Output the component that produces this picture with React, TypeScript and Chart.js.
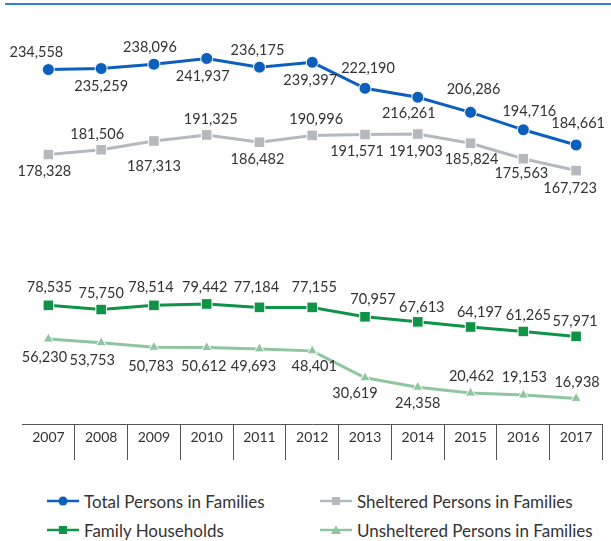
import React, { useEffect, useRef } from "react";
import { Chart, registerables } from "chart.js";

Chart.register(...registerables);

const years = ["2007", "2008", "2009", "2010", "2011", "2012", "2013", "2014", "2015", "2016", "2017"];
const totalPersons = [234558, 235259, 238096, 241937, 236175, 239397, 222190, 216261, 206286, 194716, 184661];
const shelteredPersons = [178328, 181506, 187313, 191325, 186482, 190996, 191571, 191903, 185824, 175563, 167723];
const familyHouseholds = [78535, 75750, 78514, 79442, 77184, 77155, 70957, 67613, 64197, 61265, 57971];
const unshelteredPersons = [56230, 53753, 50783, 50612, 49693, 48401, 30619, 24358, 20462, 19153, 16938];

// label placement offsets (dx, dy) relative to each point
const totalLabelPos = [[-12, -17], [0, 18], [-4, -17], [-4, 18], [-2, -17], [-2, 18], [3, -20], [-9, 16], [3, -23], [6, -18], [2, -22]];
const shelteredLabelPos = [[-4, 17], [-4, -15], [0, 25], [4, -16], [-2, 17], [4, -16], [-8, 17], [-2, 17], [1, 16], [-2, 15], [-6, 18]];
const familyLabelPos = [[1, -18], [0, -16], [-3, -18], [-2, -17], [-3, -20], [2, -20], [8, -17], [4, -15], [9, -15], [5, -16], [-1, -15]];
const unshelteredLabelPos = [[-4, 18], [-9, 18], [-3, 19], [-3, 19], [-6, 17], [2, 15], [-10, 16], [0, 16], [1, -17], [1, -18], [1, -16]];

const COLORS = {
  total: "#0d5fbd",
  sheltered: "#b5b9be",
  family: "#0f9447",
  unsheltered: "#8fc6a0",
};

const FONT = "Lato, 'Open Sans', sans-serif";

const fmt = (v: number) => v.toLocaleString("en-US");

const labelPlugin = {
  id: "valueLabels",
  afterDatasetsDraw(chart: any) {
    const ctx = chart.ctx;
    ctx.save();
    ctx.font = `14.5px ${FONT}`;
    ctx.fillStyle = "#333333";
    ctx.textAlign = "center";
    ctx.textBaseline = "middle";
    chart.data.datasets.forEach((ds: any, di: number) => {
      const meta = chart.getDatasetMeta(di);
      const pos = ds.labelPos as number[][];
      meta.data.forEach((pt: any, i: number) => {
        const [dx, dy] = pos[i];
        ctx.fillText(fmt(ds.data[i]), pt.x + dx, pt.y + dy);
      });
    });
    ctx.restore();
  },
};

function LegendIcon({ color, shape }: { color: string; shape: string }) {
  let marker: React.ReactNode = null;
  if (shape === "circle") marker = <circle cx={16} cy={6} r={4.5} fill={color} />;
  else if (shape === "rect") marker = <rect x={12} y={2} width={8} height={8} fill={color} />;
  else marker = <polygon points="16,1.5 21,10 11,10" fill={color} />;
  return (
    <svg width={32} height={12} style={{ display: "block" }}>
      <line x1={0} y1={6} x2={32} y2={6} stroke={color} strokeWidth={2.5} />
      {marker}
    </svg>
  );
}

export default function App() {
  const canvasRef = useRef<HTMLCanvasElement | null>(null);

  useEffect(() => {
    const canvas = canvasRef.current;
    if (!canvas) return;
    const mk = (label: string, data: number[], color: string, style: string, radius: number, labelPos: number[][]) => ({
      label,
      data,
      borderColor: color,
      backgroundColor: color,
      borderWidth: 3,
      pointStyle: style,
      pointRadius: radius,
      pointBackgroundColor: color,
      pointBorderColor: "#ffffff",
      pointBorderWidth: 1,
      tension: 0,
      labelPos,
    });
    const chart = new Chart(canvas, {
      type: "line",
      data: {
        labels: years,
        datasets: [
          mk("Total Persons in Families", totalPersons, COLORS.total, "circle", 6, totalLabelPos),
          mk("Sheltered Persons in Families", shelteredPersons, COLORS.sheltered, "rect", 7.5, shelteredLabelPos),
          mk("Family Households", familyHouseholds, COLORS.family, "rect", 7.5, familyLabelPos),
          mk("Unsheltered Persons in Families", unshelteredPersons, COLORS.unsheltered, "triangle", 6, unshelteredLabelPos),
        ] as any,
      },
      options: {
        responsive: false,
        animation: false,
        devicePixelRatio: 1,
        layout: { padding: { left: 22, right: 1, top: 6, bottom: 0 } },
        plugins: { legend: { display: false }, tooltip: { enabled: false } },
        scales: {
          x: {
            offset: true,
            afterFit: (scale: any) => {
              scale.height = 46;
            },
            grid: {
              offset: true,
              drawOnChartArea: false,
              drawTicks: true,
              tickLength: 36,
              color: (c: any) => (c.index === 0 || c.index >= years.length ? "rgba(0,0,0,0)" : "#555555"),
              lineWidth: 1,
            },
            border: { display: true, color: "#555555", width: 1 },
            ticks: {
              padding: -31,
              color: "#333333",
              font: { family: FONT, size: 14 },
              maxRotation: 0,
              autoSkip: false,
            },
          },
          y: {
            display: false,
            min: 0,
            max: 275000,
          },
        },
      },
      plugins: [labelPlugin],
    });
    return () => chart.destroy();
  }, []);

  const legendItems = [
    { label: "Total Persons in Families", color: COLORS.total, shape: "circle", left: 47, top: 501 },
    { label: "Sheltered Persons in Families", color: COLORS.sheltered, shape: "rect", left: 320, top: 501 },
    { label: "Family Households", color: COLORS.family, shape: "rect", left: 47, top: 530 },
    { label: "Unsheltered Persons in Families", color: COLORS.unsheltered, shape: "triangle", left: 320, top: 530 },
  ];

  return (
    <div style={{ position: "fixed", left: 0, top: 0, width: 611, height: 541, background: "#ffffff", overflow: "hidden" }}>
      <div style={{ position: "absolute", left: 5, top: 3, width: 606, height: 2, background: "#2f83d2" }} />
      <canvas ref={canvasRef} width={611} height={470} style={{ position: "absolute", left: 0, top: 0, width: 611, height: 470 }} />
      {legendItems.map((it) => (
        <div
          key={it.label}
          style={{
            position: "absolute",
            left: it.left,
            top: it.top - 11,
            height: 22,
            display: "flex",
            alignItems: "center",
            fontFamily: FONT,
            fontSize: 17,
            color: "#333333",
            whiteSpace: "nowrap",
          }}
        >
          <LegendIcon color={it.color} shape={it.shape} />
          <span style={{ marginLeft: 5 }}>{it.label}</span>
        </div>
      ))}
    </div>
  );
}
